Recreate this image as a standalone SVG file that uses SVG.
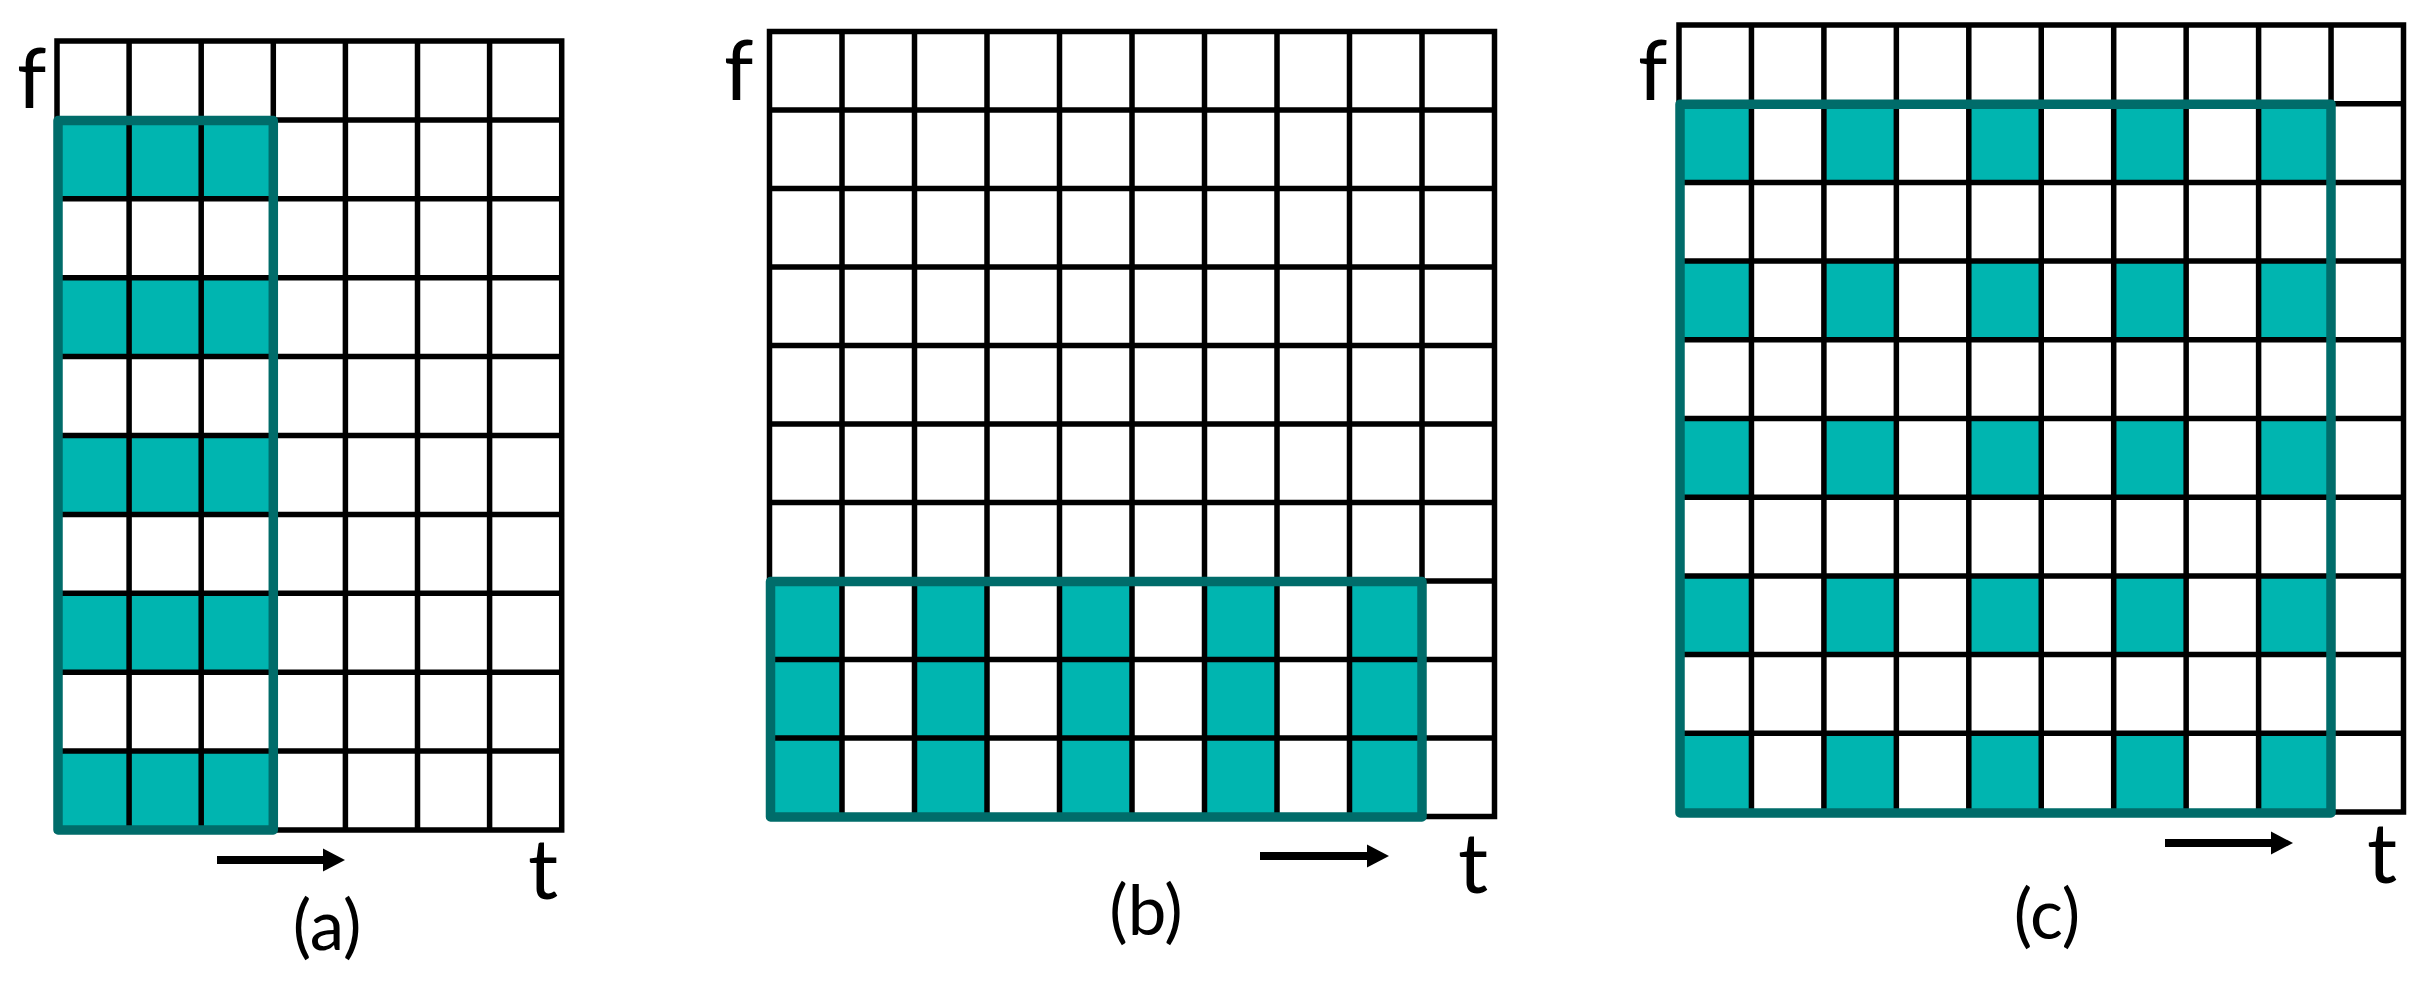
<svg xmlns="http://www.w3.org/2000/svg" width="2433" height="990" viewBox="0 0 2433 990">
<style>
.bg{fill:#ffffff}
.cell{fill:#00B5B0}
.grid{fill:none;stroke:#000000;stroke-width:5.5;stroke-linecap:square}
.box{fill:none;stroke:#006C6A;stroke-width:9.5;stroke-linejoin:round}
.lbl{font-family:Lato,"Open Sans","Liberation Sans",sans-serif;fill:#000000}
.ax{font-size:84px}
.cap{font-size:69px;text-anchor:middle}
.arr{stroke:#000000;stroke-width:8;fill:none}
</style>
<defs>
<marker id="ah" markerUnits="userSpaceOnUse" markerWidth="23" markerHeight="24" refX="0" refY="12" orient="auto">
<path d="M0,0.5 L22,12 L0,23.5 z" fill="#000000"/>
</marker>
</defs>
<rect class="bg" x="0" y="0" width="2433" height="990"/>

<g id="panel-a">
<rect class="cell" x="57" y="119.9" width="216.3" height="78.9"/>
<rect class="cell" x="57" y="277.7" width="216.3" height="78.9"/>
<rect class="cell" x="57" y="435.5" width="216.3" height="78.9"/>
<rect class="cell" x="57" y="593.3" width="216.3" height="78.9"/>
<rect class="cell" x="57" y="751.1" width="216.3" height="78.9"/>
<path class="grid" d="M57,41V830M129.1,41V830M201.2,41V830M273.3,41V830M345.4,41V830M417.5,41V830M489.6,41V830M561.7,41V830
M57,41H561.7M57,119.9H561.7M57,198.8H561.7M57,277.7H561.7M57,356.6H561.7M57,435.5H561.7M57,514.4H561.7M57,593.3H561.7M57,672.2H561.7M57,751.1H561.7M57,830H561.7"/>
<rect class="box" x="58" y="120.5" width="215.3" height="709.5"/>
<text class="lbl ax" x="17" y="108">f</text>
<text class="lbl ax" x="528" y="899">t</text>
<text class="lbl cap" x="327" y="950">(a)</text>
</g>

<g id="panel-b">
<rect class="cell" x="769.5" y="581" width="72.5" height="235.5"/>
<rect class="cell" x="914.5" y="581" width="72.5" height="235.5"/>
<rect class="cell" x="1059.5" y="581" width="72.5" height="235.5"/>
<rect class="cell" x="1204.5" y="581" width="72.5" height="235.5"/>
<rect class="cell" x="1349.5" y="581" width="72.5" height="235.5"/>
<path class="grid" d="M769.5,31.5V816.5M842,31.5V816.5M914.5,31.5V816.5M987,31.5V816.5M1059.5,31.5V816.5M1132,31.5V816.5M1204.5,31.5V816.5M1277,31.5V816.5M1349.5,31.5V816.5M1422,31.5V816.5M1494.5,31.5V816.5
M769.5,31.5H1494.5M769.5,110H1494.5M769.5,188.5H1494.5M769.5,267H1494.5M769.5,345.5H1494.5M769.5,424H1494.5M769.5,502.5H1494.5M769.5,581H1494.5M769.5,659.5H1494.5M769.5,738H1494.5M769.5,816.5H1494.5"/>
<rect class="box" x="770.5" y="581.5" width="651.5" height="235.5"/>
<text class="lbl ax" x="724" y="100">f</text>
<text class="lbl ax" x="1458" y="893">t</text>
<text class="lbl cap" x="1146" y="935">(b)</text>
</g>

<g id="panel-c">
<rect class="cell" x="1679" y="103.7" width="72.45" height="78.7"/><rect class="cell" x="1823.9" y="103.7" width="72.45" height="78.7"/><rect class="cell" x="1968.8" y="103.7" width="72.45" height="78.7"/><rect class="cell" x="2113.7" y="103.7" width="72.45" height="78.7"/><rect class="cell" x="2258.6" y="103.7" width="72.45" height="78.7"/>
<rect class="cell" x="1679" y="261.1" width="72.45" height="78.7"/><rect class="cell" x="1823.9" y="261.1" width="72.45" height="78.7"/><rect class="cell" x="1968.8" y="261.1" width="72.45" height="78.7"/><rect class="cell" x="2113.7" y="261.1" width="72.45" height="78.7"/><rect class="cell" x="2258.6" y="261.1" width="72.45" height="78.7"/>
<rect class="cell" x="1679" y="418.5" width="72.45" height="78.7"/><rect class="cell" x="1823.9" y="418.5" width="72.45" height="78.7"/><rect class="cell" x="1968.8" y="418.5" width="72.45" height="78.7"/><rect class="cell" x="2113.7" y="418.5" width="72.45" height="78.7"/><rect class="cell" x="2258.6" y="418.5" width="72.45" height="78.7"/>
<rect class="cell" x="1679" y="575.9" width="72.45" height="78.7"/><rect class="cell" x="1823.9" y="575.9" width="72.45" height="78.7"/><rect class="cell" x="1968.8" y="575.9" width="72.45" height="78.7"/><rect class="cell" x="2113.7" y="575.9" width="72.45" height="78.7"/><rect class="cell" x="2258.6" y="575.9" width="72.45" height="78.7"/>
<rect class="cell" x="1679" y="733.3" width="72.45" height="78.7"/><rect class="cell" x="1823.9" y="733.3" width="72.45" height="78.7"/><rect class="cell" x="1968.8" y="733.3" width="72.45" height="78.7"/><rect class="cell" x="2113.7" y="733.3" width="72.45" height="78.7"/><rect class="cell" x="2258.6" y="733.3" width="72.45" height="78.7"/>
<path class="grid" d="M1679,25V812M1751.45,25V812M1823.9,25V812M1896.35,25V812M1968.8,25V812M2041.25,25V812M2113.7,25V812M2186.15,25V812M2258.6,25V812M2331.05,25V812M2403.5,25V812
M1679,25H2403.5M1679,103.7H2403.5M1679,182.4H2403.5M1679,261.1H2403.5M1679,339.8H2403.5M1679,418.5H2403.5M1679,497.2H2403.5M1679,575.9H2403.5M1679,654.6H2403.5M1679,733.3H2403.5M1679,812H2403.5"/>
<rect class="box" x="1680" y="104.2" width="651" height="708.8"/>
<text class="lbl ax" x="1638" y="100">f</text>
<text class="lbl ax" x="2367" y="883">t</text>
<text class="lbl cap" x="2047" y="939">(c)</text>
</g>

<g id="connectors">
<line class="arr" x1="217" y1="860" x2="323" y2="860" marker-end="url(#ah)"/>
<line class="arr" x1="1260" y1="856" x2="1367" y2="856" marker-end="url(#ah)"/>
<line class="arr" x1="2165" y1="843" x2="2271" y2="843" marker-end="url(#ah)"/>
</g>
</svg>
